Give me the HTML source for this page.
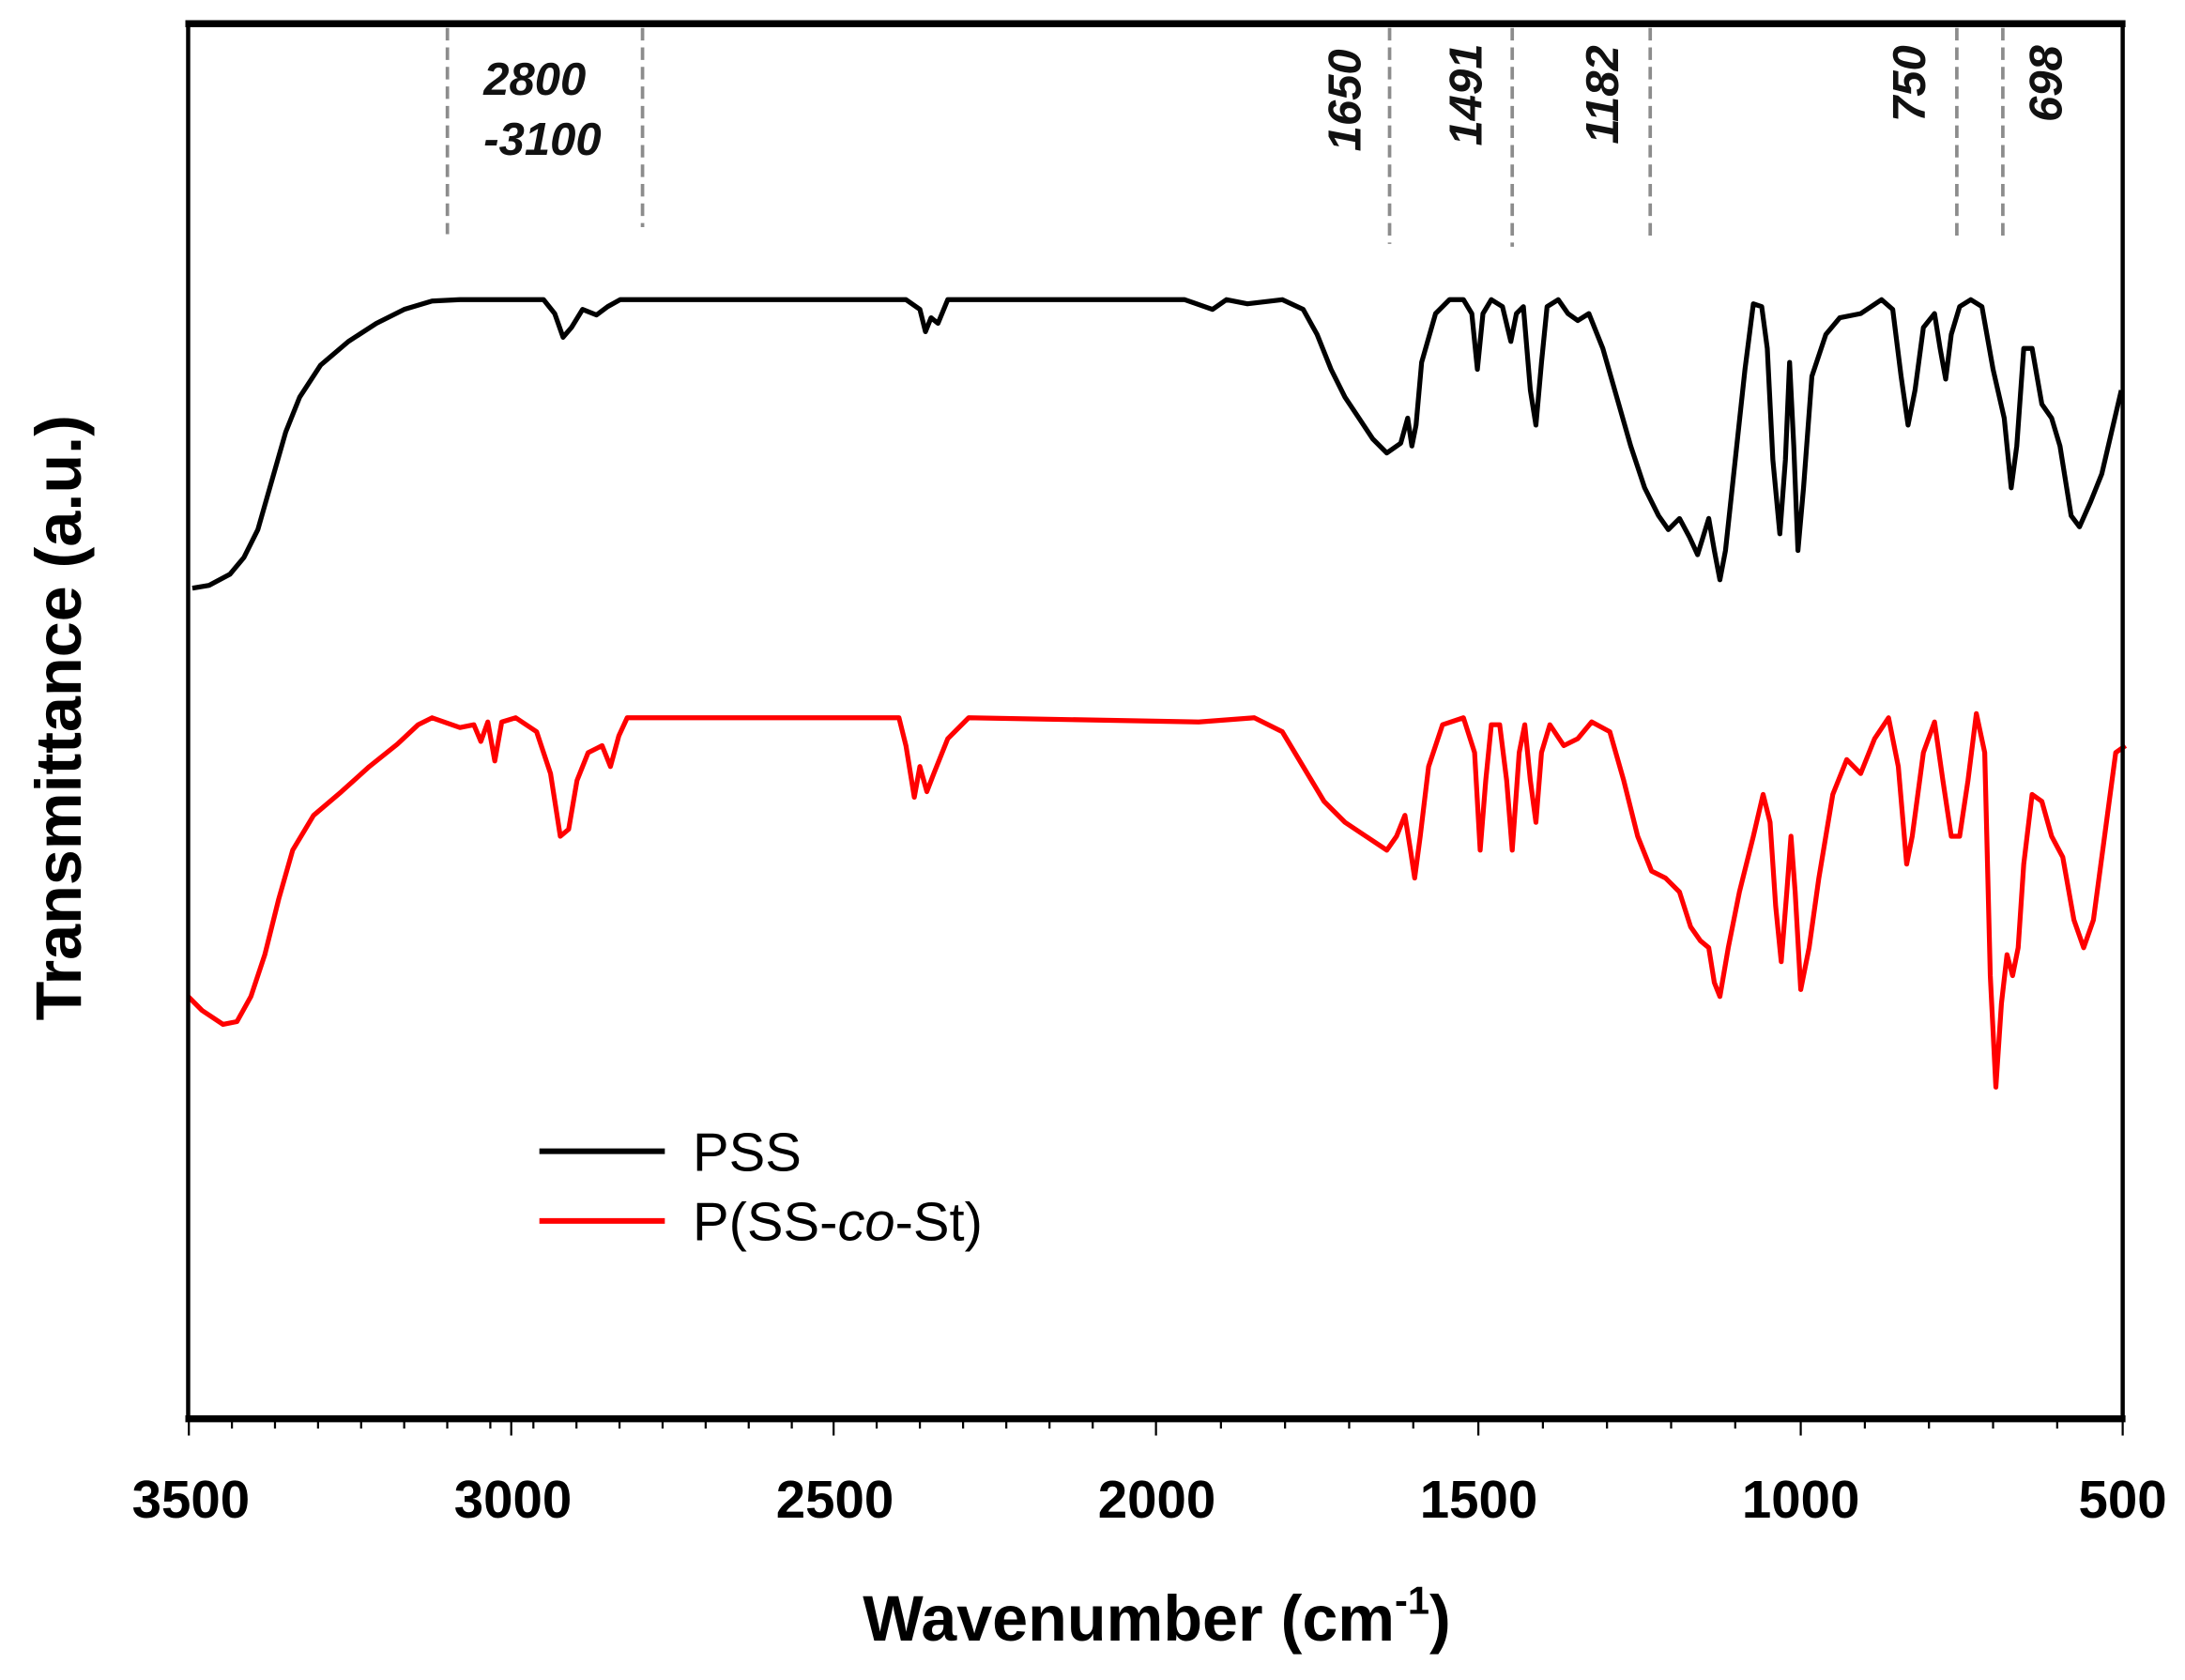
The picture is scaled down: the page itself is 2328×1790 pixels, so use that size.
<!DOCTYPE html>
<html><head><meta charset="utf-8"><style>
html,body{margin:0;padding:0;background:#fff;}
svg{display:block;}
text{font-family:"Liberation Sans",Arial,sans-serif;}
</style></head><body>
<svg width="2328" height="1790" viewBox="0 0 1567.7 1205.4" preserveAspectRatio="none" xmlns="http://www.w3.org/2000/svg">
<rect width="1567.7" height="1205.4" fill="#fff"/>
<g stroke="#8c8c8c" stroke-width="2.5" stroke-dasharray="9,5" fill="none">
<line x1="321" y1="20" x2="321" y2="168"/>
<line x1="461" y1="20" x2="461" y2="163"/>
<line x1="997" y1="20" x2="997" y2="175"/>
<line x1="1085" y1="20" x2="1085" y2="177"/>
<line x1="1184" y1="20" x2="1184" y2="172"/>
<line x1="1404" y1="20" x2="1404" y2="172"/>
<line x1="1437" y1="20" x2="1437" y2="172"/>
</g>
<g font-style="italic" font-weight="bold" font-size="33" fill="#111">
<text x="347" y="68">2800</text>
<text x="347" y="111">-3100</text>
<text transform="translate(976,72) rotate(-90)" text-anchor="middle">1650</text>
<text transform="translate(1063,68) rotate(-90)" text-anchor="middle">1491</text>
<text transform="translate(1161,68) rotate(-90)" text-anchor="middle">1182</text>
<text transform="translate(1381,60) rotate(-90)" text-anchor="middle">750</text>
<text transform="translate(1479,60) rotate(-90)" text-anchor="middle">698</text>
</g>
<polyline fill="none" stroke="#000" stroke-width="3.5" stroke-linejoin="round" points="138,422 150,420 165,412 175,400 185,380 195,345 205,310 215,285 230,262 250,245 270,232 290,222 310,216 330,215 390,215 398,225 404,242 410,235 418,222 428,226 436,220 445,215 650,215 660,222 664,238 668,228 673,232 680,215 850,215 870,222 880,215 895,218 920,215 935,222 945,240 955,265 965,285 975,300 985,315 995,325 1005,318 1010,300 1013,320 1016,305 1020,260 1030,225 1040,215 1050,215 1056,225 1060,265 1064,225 1070,215 1078,220 1084,245 1088,225 1093,220 1098,280 1102,305 1106,260 1110,220 1118,215 1125,225 1132,230 1140,225 1150,250 1160,285 1170,320 1180,350 1190,370 1197,380 1205,372 1212,385 1218,398 1222,385 1226,372 1230,395 1234,416 1238,395 1245,330 1252,265 1258,218 1264,220 1268,250 1272,330 1277,383 1281,330 1284,260 1287,320 1290,395 1294,350 1300,270 1310,240 1320,228 1335,225 1350,215 1358,222 1364,270 1369,305 1374,280 1380,235 1388,225 1392,250 1396,272 1400,240 1406,220 1414,215 1422,220 1430,265 1438,300 1443,350 1447,320 1452,250 1458,250 1465,290 1472,300 1478,320 1486,370 1492,378 1500,360 1508,340 1515,310 1522,280"/>
<polyline fill="none" stroke="#f00" stroke-width="3.5" stroke-linejoin="round" points="135,715 145,725 160,735 170,733 180,715 190,685 200,645 210,610 225,585 245,568 265,550 285,534 300,520 310,515 330,522 340,520 345,532 350,518 355,546 360,518 370,515 385,525 395,555 402,600 408,595 414,560 422,540 432,535 438,550 444,528 450,515 645,515 650,535 656,572 660,550 665,568 670,555 680,530 695,515 860,518 900,515 920,525 935,550 950,575 965,590 980,600 995,610 1002,600 1008,585 1012,610 1015,630 1019,600 1025,550 1035,520 1050,515 1058,540 1062,610 1066,560 1070,520 1076,520 1081,560 1085,610 1090,540 1094,520 1098,560 1102,590 1106,540 1112,520 1122,535 1132,530 1142,518 1155,525 1165,560 1175,600 1185,625 1195,630 1205,640 1213,665 1220,675 1226,680 1230,705 1234,715 1240,680 1248,640 1258,600 1265,570 1270,590 1274,650 1278,690 1282,640 1285,600 1288,640 1292,710 1298,680 1305,630 1315,570 1325,545 1335,555 1345,530 1355,515 1362,550 1368,620 1372,600 1380,540 1388,518 1394,560 1400,600 1406,600 1412,560 1418,512 1424,540 1428,700 1432,780 1436,720 1440,685 1444,700 1448,680 1452,620 1458,570 1465,575 1472,600 1480,615 1488,660 1495,680 1502,660 1510,600 1518,540 1525,535"/>
<rect x="135" y="17" width="1388" height="1001" fill="none" stroke="#000" stroke-width="2.5"/>
<line x1="133" y1="17" x2="1525" y2="17" stroke="#000" stroke-width="5"/>
<line x1="133" y1="1018" x2="1525" y2="1018" stroke="#000" stroke-width="5"/>
<line x1="135" y1="15" x2="135" y2="1020" stroke="#000" stroke-width="3"/>
<line x1="1523" y1="15" x2="1523" y2="1020" stroke="#000" stroke-width="3"/>
<g stroke="#000" stroke-width="1.5">
<line x1="135.5" y1="1020" x2="135.5" y2="1030"/><line x1="166.4" y1="1020" x2="166.4" y2="1025"/><line x1="197.3" y1="1020" x2="197.3" y2="1025"/><line x1="228.2" y1="1020" x2="228.2" y2="1025"/><line x1="259.1" y1="1020" x2="259.1" y2="1025"/><line x1="290" y1="1020" x2="290" y2="1025"/><line x1="320.9" y1="1020" x2="320.9" y2="1025"/><line x1="351.8" y1="1020" x2="351.8" y2="1025"/><line x1="382.7" y1="1020" x2="382.7" y2="1025"/><line x1="413.6" y1="1020" x2="413.6" y2="1025"/>
<line x1="366.8" y1="1020" x2="366.8" y2="1030"/><line x1="598.1" y1="1020" x2="598.1" y2="1030"/><line x1="829.4" y1="1020" x2="829.4" y2="1030"/><line x1="1060.7" y1="1020" x2="1060.7" y2="1030"/><line x1="1292" y1="1020" x2="1292" y2="1030"/><line x1="1523" y1="1020" x2="1523" y2="1030"/>
<line x1="444.5" y1="1020" x2="444.5" y2="1025"/><line x1="475.4" y1="1020" x2="475.4" y2="1025"/><line x1="506.3" y1="1020" x2="506.3" y2="1025"/><line x1="537.2" y1="1020" x2="537.2" y2="1025"/><line x1="568.1" y1="1020" x2="568.1" y2="1025"/>
<line x1="629" y1="1020" x2="629" y2="1025"/><line x1="660" y1="1020" x2="660" y2="1025"/><line x1="691" y1="1020" x2="691" y2="1025"/><line x1="722" y1="1020" x2="722" y2="1025"/><line x1="753" y1="1020" x2="753" y2="1025"/><line x1="784" y1="1020" x2="784" y2="1025"/>
<line x1="876" y1="1020" x2="876" y2="1025"/><line x1="922" y1="1020" x2="922" y2="1025"/><line x1="968" y1="1020" x2="968" y2="1025"/><line x1="1014" y1="1020" x2="1014" y2="1025"/>
<line x1="1107" y1="1020" x2="1107" y2="1025"/><line x1="1153" y1="1020" x2="1153" y2="1025"/><line x1="1199" y1="1020" x2="1199" y2="1025"/><line x1="1245" y1="1020" x2="1245" y2="1025"/>
<line x1="1338" y1="1020" x2="1338" y2="1025"/><line x1="1384" y1="1020" x2="1384" y2="1025"/><line x1="1430" y1="1020" x2="1430" y2="1025"/><line x1="1476" y1="1020" x2="1476" y2="1025"/>
</g>
<g font-weight="bold" font-size="38" text-anchor="middle" fill="#000">
<text x="137" y="1089">3500</text><text x="368" y="1089">3000</text><text x="599" y="1089">2500</text><text x="830" y="1089">2000</text><text x="1061" y="1089">1500</text><text x="1292" y="1089">1000</text><text x="1523" y="1089">500</text>
</g>
<text x="830" y="1177" font-weight="bold" font-size="46" text-anchor="middle">Wavenumber (cm<tspan font-size="28" dy="-19">-1</tspan><tspan dy="19">)</tspan></text>
<text transform="translate(58,515) rotate(-90)" font-weight="bold" font-size="46" text-anchor="middle">Transmittance (a.u.)</text>
<line x1="387" y1="826" x2="477" y2="826" stroke="#000" stroke-width="4"/>
<line x1="387" y1="876" x2="477" y2="876" stroke="#f00" stroke-width="4"/>
<text x="497" y="840" font-size="39">PSS</text>
<text x="497" y="890" font-size="39">P(SS-<tspan font-style="italic">co</tspan>-St)</text>
</svg>
</body></html>
